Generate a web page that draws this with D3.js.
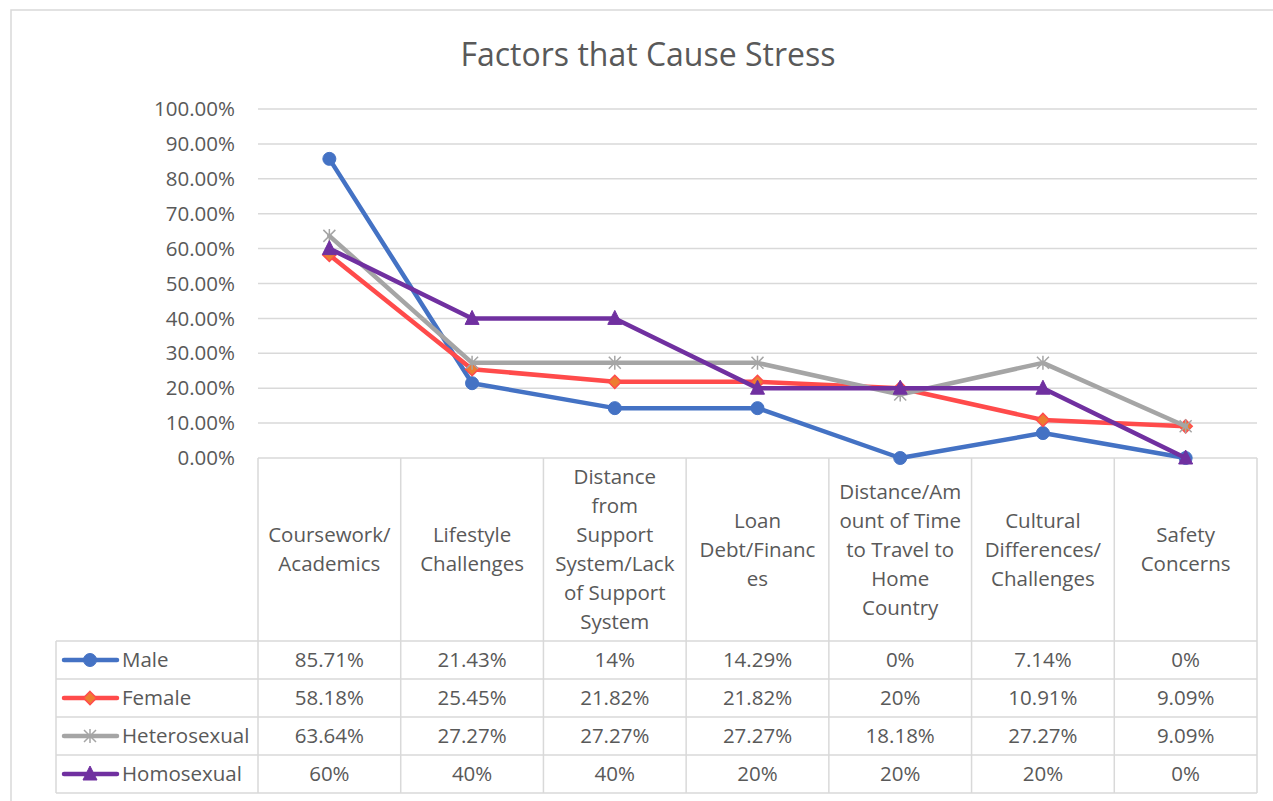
<!DOCTYPE html>
<html>
<head>
<meta charset="utf-8">
<script src="https://cdn.jsdelivr.net/npm/d3@7"></script>
<style>
  body { margin: 0; background: #fff; }
  text { font-family: "Open Sans", sans-serif; fill: #595959; }
</style>
</head>
<body>
<div id="chart"></div>
<script>
// categories (label lines as wrapped in the table header)
var categories = ["Coursework/Academics", "Lifestyle Challenges", "Distance from Support System/Lack of Support System",
  "Loan Debt/Finances", "Distance/Amount of Time to Travel to Home Country", "Cultural Differences/Challenges", "Safety Concerns"];
var categoryLines = [
  ["Coursework/", "Academics"],
  ["Lifestyle", "Challenges"],
  ["Distance", "from", "Support", "System/Lack", "of Support", "System"],
  ["Loan", "Debt/Financ", "es"],
  ["Distance/Am", "ount of Time", "to Travel to", "Home", "Country"],
  ["Cultural", "Differences/", "Challenges"],
  ["Safety", "Concerns"]
];

var seriesNames = ["Male", "Female", "Heterosexual", "Homosexual"];
var male = [0.8571, 0.2143, 0.1429, 0.1429, 0, 0.0714, 0];
var female = [0.5818, 0.2545, 0.2182, 0.2182, 0.20, 0.1091, 0.0909];
var hetero = [0.6364, 0.2727, 0.2727, 0.2727, 0.1818, 0.2727, 0.0909];
var homo = [0.60, 0.40, 0.40, 0.20, 0.20, 0.20, 0];

// labels as shown in the data table
var maleLabels = ["85.71%", "21.43%", "14%", "14.29%", "0%", "7.14%", "0%"];
var femaleLabels = ["58.18%", "25.45%", "21.82%", "21.82%", "20%", "10.91%", "9.09%"];
var heteroLabels = ["63.64%", "27.27%", "27.27%", "27.27%", "18.18%", "27.27%", "9.09%"];
var homoLabels = ["60%", "40%", "40%", "20%", "20%", "20%", "0%"];

var yTicks = [0, 0.1, 0.2, 0.3, 0.4, 0.5, 0.6, 0.7, 0.8, 0.9, 1.0];

var series = [
  { name: seriesNames[0], values: male, labels: maleLabels, color: "#4472C4", marker: "circle" },
  { name: seriesNames[1], values: female, labels: femaleLabels, color: "#FF4B4B", marker: "diamond" },
  { name: seriesNames[2], values: hetero, labels: heteroLabels, color: "#A5A5A5", marker: "star" },
  { name: seriesNames[3], values: homo, labels: homoLabels, color: "#7030A0", marker: "triangle" }
];

var width = 1273, height = 801;
var plotLeft = 258, plotRight = 1257, plotTop = 109, plotBottom = 458;
var headerBottom = 641, rowH = 38, legendLeft = 56;
var gridColor = "#d9d9d9";
var fontSize = "20.5px";

var svg = d3.select("#chart").append("svg")
  .attr("width", width)
  .attr("height", height);

// chart border
svg.append("rect")
  .attr("x", 11).attr("y", 10)
  .attr("width", 1300).attr("height", 900)
  .attr("fill", "#fff")
  .attr("stroke", gridColor)
  .attr("stroke-width", 1.5);

// title
svg.append("text")
  .attr("x", 648).attr("y", 66)
  .attr("text-anchor", "middle")
  .style("font-size", "32px")
  .text("Factors that Cause Stress");

var x = d3.scaleBand().domain(categories).range([plotLeft, plotRight]);
var y = d3.scaleLinear().domain([0, 1]).range([plotBottom, plotTop]);

// gridlines
svg.append("g").selectAll("line")
  .data(yTicks)
  .enter().append("line")
  .attr("x1", plotLeft).attr("x2", plotRight)
  .attr("y1", d => y(d)).attr("y2", d => y(d))
  .attr("stroke", gridColor)
  .attr("stroke-width", 1.5);

// y axis labels
svg.append("g").selectAll("text")
  .data(yTicks)
  .enter().append("text")
  .attr("x", 235)
  .attr("y", d => y(d))
  .attr("dy", "0.35em")
  .attr("text-anchor", "end")
  .style("font-size", fontSize)
  .text(d => d3.format(".2%")(d));

// data table grid
var table = svg.append("g").attr("stroke", gridColor).attr("stroke-width", 1.5);
var bounds = categories.map(c => x(c)).concat([plotRight]);
table.selectAll(".v").data(bounds).enter().append("line")
  .attr("x1", d => d).attr("x2", d => d)
  .attr("y1", plotBottom).attr("y2", headerBottom + rowH * series.length);
table.append("line")
  .attr("x1", legendLeft).attr("x2", legendLeft)
  .attr("y1", headerBottom).attr("y2", headerBottom + rowH * series.length);
table.selectAll(".h").data(d3.range(series.length + 1)).enter().append("line")
  .attr("x1", legendLeft).attr("x2", plotRight)
  .attr("y1", i => headerBottom + i * rowH).attr("y2", i => headerBottom + i * rowH);

// category header text
var lineH = 29;
var midHeader = (plotBottom + headerBottom) / 2;
categoryLines.forEach(function(lines, i) {
  var cx = x(categories[i]) + x.bandwidth() / 2;
  var t = svg.append("text")
    .attr("text-anchor", "middle")
    .style("font-size", fontSize);
  lines.forEach(function(l, j) {
    t.append("tspan")
      .attr("x", cx)
      .attr("y", midHeader + (j - (lines.length - 1) / 2) * lineH)
      .attr("dy", "0.35em")
      .text(l);
  });
});

// markers
function drawMarker(g, type, color, cx, cy) {
  if (type === "circle") {
    g.append("circle").attr("cx", cx).attr("cy", cy).attr("r", 6.5)
      .attr("fill", color).attr("stroke", color);
  } else if (type === "diamond") {
    g.append("path")
      .attr("d", d3.symbol().type(d3.symbolDiamond2).size(110)())
      .attr("transform", "translate(" + cx + "," + cy + ")")
      .attr("fill", "#ED7D31").attr("stroke", color).attr("stroke-width", 1.5);
  } else if (type === "star") {
    var r = 6;
    g.append("path")
      .attr("d", "M" + (cx - r) + "," + (cy - r) + "L" + (cx + r) + "," + (cy + r) +
        "M" + (cx + r) + "," + (cy - r) + "L" + (cx - r) + "," + (cy + r) +
        "M" + cx + "," + (cy - r - 1) + "L" + cx + "," + (cy + r + 1))
      .attr("stroke", color).attr("stroke-width", 1.5).attr("fill", "none");
  } else if (type === "triangle") {
    g.append("path")
      .attr("d", "M" + cx + "," + (cy - 8) + "L" + (cx + 7) + "," + (cy + 6) + "L" + (cx - 7) + "," + (cy + 6) + "Z")
      .attr("fill", color).attr("stroke", color);
  }
}

var line = d3.line()
  .x((d, i) => x(categories[i]) + x.bandwidth() / 2)
  .y(d => y(d));

series.forEach(function(s) {
  var g = svg.append("g");
  g.append("path")
    .datum(s.values)
    .attr("d", line)
    .attr("fill", "none")
    .attr("stroke", s.color)
    .attr("stroke-width", 4.5)
    .attr("stroke-linejoin", "round")
    .attr("stroke-linecap", "round");
  s.values.forEach(function(v, i) {
    drawMarker(g, s.marker, s.color, x(categories[i]) + x.bandwidth() / 2, y(v));
  });
});

// table rows: legend keys and values
series.forEach(function(s, r) {
  var cy = headerBottom + r * rowH + rowH / 2;
  var g = svg.append("g");
  g.append("line")
    .attr("x1", 64).attr("x2", 117)
    .attr("y1", cy).attr("y2", cy)
    .attr("stroke", s.color).attr("stroke-width", 4.5)
    .attr("stroke-linecap", "round");
  drawMarker(g, s.marker, s.color, 90, cy);
  g.append("text")
    .attr("x", 122).attr("y", cy).attr("dy", "0.35em")
    .style("font-size", fontSize)
    .text(s.name);
  s.labels.forEach(function(l, i) {
    g.append("text")
      .attr("x", x(categories[i]) + x.bandwidth() / 2)
      .attr("y", cy).attr("dy", "0.35em")
      .attr("text-anchor", "middle")
      .style("font-size", fontSize)
      .text(l);
  });
});
</script>
</body>
</html>
